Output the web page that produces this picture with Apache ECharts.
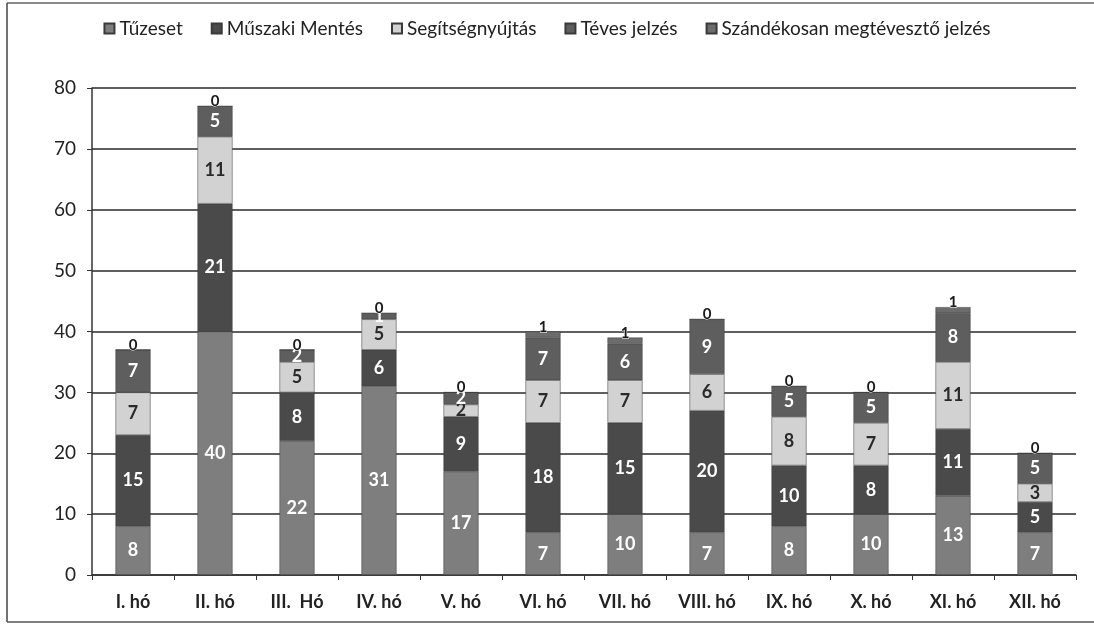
<!DOCTYPE html>
<html>
<head>
<meta charset="utf-8">
<script src="https://cdn.jsdelivr.net/npm/echarts@6/dist/echarts.min.js"></script>
<style>
  html, body { margin: 0; padding: 0; background: #fff; }
  #chart { width: 1094px; height: 625px; }
</style>
</head>
<body>
<div id="chart"></div>
<script>
const categories = ['I. hó', 'II. hó', 'III.  Hó', 'IV. hó', 'V. hó', 'VI. hó', 'VII. hó', 'VIII. hó', 'IX. hó', 'X. hó', 'XI. hó', 'XII. hó'];
const seriesNames = ['Tűzeset', 'Műszaki Mentés', 'Segítségnyújtás', 'Téves jelzés', 'Szándékosan megtévesztő jelzés'];
const tuzeset      = [8, 40, 22, 31, 17, 7, 10, 7, 8, 10, 13, 7];
const muszaki      = [15, 21, 8, 6, 9, 18, 15, 20, 10, 8, 11, 5];
const segitseg     = [7, 11, 5, 5, 2, 7, 7, 6, 8, 7, 11, 3];
const teves        = [7, 5, 2, 1, 2, 7, 6, 9, 5, 5, 8, 5];
const szandekosan  = [0, 0, 0, 0, 0, 1, 1, 0, 0, 0, 1, 0];
const yTicks = [0, 10, 20, 30, 40, 50, 60, 70, 80];

const FONT = "Lato, 'Open Sans', sans-serif";
const colors = ['#7e7e7e', '#4a4a4a', '#d2d2d2', '#5e5e5e', '#6c6c6c'];
const labelColors = ['#ffffff', '#ffffff', '#2a2a2a', '#ffffff', '#1a1a1a'];
const dataSets = [tuzeset, muszaki, segitseg, teves, szandekosan];

const series = dataSets.map((d, i) => ({
  name: seriesNames[i],
  type: 'bar',
  stack: 'total',
  barWidth: 35,
  data: d,
  itemStyle: { color: colors[i], borderColor: '#3a3a3a', borderWidth: 0.5 },
  label: {
    show: true,
    position: i === 4 ? 'top' : 'inside',
    distance: i === 4 ? -3 : 5,
    color: labelColors[i],
    fontFamily: FONT,
    fontWeight: 'bold',
    fontSize: i === 4 ? 15 : 18,
    textBorderColor: i === 4 ? '#ffffff' : 'transparent',
    textBorderWidth: i === 4 ? 1 : 0
  }
}));

const chart = echarts.init(document.getElementById('chart'), null, { renderer: 'canvas' });
chart.setOption({
  backgroundColor: '#ffffff',
  animation: false,
  color: colors,
  legend: {
    top: 14,
    left: 'center',
    itemWidth: 10,
    itemHeight: 10,
    itemGap: 28,
    icon: 'rect',
    textStyle: { fontFamily: FONT, fontSize: 19, color: '#222' },
    data: seriesNames
  },
  grid: { left: 92, right: 18, top: 88, bottom: 50, containLabel: false },
  xAxis: {
    type: 'category',
    data: categories,
    axisLine: { show: true, lineStyle: { color: '#333', width: 1.5 } },
    axisTick: { show: true, alignWithLabel: false, lineStyle: { color: '#333' } },
    axisLabel: { fontFamily: FONT, fontWeight: 'bold', fontSize: 18, color: '#222', margin: 18 }
  },
  yAxis: {
    type: 'value',
    min: 0,
    max: 80,
    interval: 10,
    axisLine: { show: true, lineStyle: { color: '#333', width: 1.5 } },
    axisTick: { show: true, lineStyle: { color: '#333' } },
    axisLabel: { fontFamily: FONT, fontSize: 19, color: '#222', margin: 16 },
    splitLine: { show: true, lineStyle: { color: '#2a2a2a', width: 1.6 } }
  },
  graphic: [
    { type: 'line', shape: { x1: 7, y1: 3, x2: 1094, y2: 3 }, style: { stroke: '#666', lineWidth: 1.5 } },
    { type: 'line', shape: { x1: 7, y1: 3, x2: 7, y2: 622 }, style: { stroke: '#444', lineWidth: 1.5 } },
    { type: 'line', shape: { x1: 7, y1: 622, x2: 1094, y2: 622 }, style: { stroke: '#555', lineWidth: 1.5 } }
  ],
  series: series
});
</script>
</body>
</html>
